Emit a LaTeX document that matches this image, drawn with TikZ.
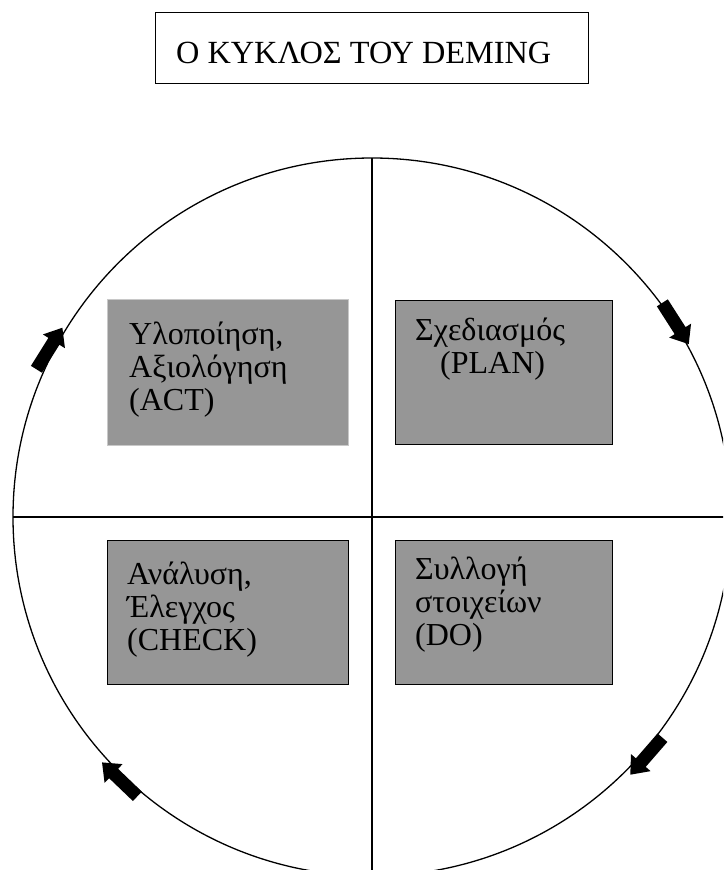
\documentclass[tikz,border=0pt]{standalone}
\usepackage{fontspec}
\usetikzlibrary{calc}
\setmainfont{Liberation Serif}
\definecolor{boxgray}{RGB}{150,150,150}
\definecolor{edgegray}{RGB}{200,200,200}
\tikzset{
  graybox/.style={fill=boxgray, draw=black, line width=1.2pt},
  graybox nb/.style={fill=boxgray, draw=edgegray, line width=1pt},
  boxtext/.style={anchor=base west, inner sep=0pt, align=left,
    font=\fontsize{32}{33}\selectfont},
  blockarrow/.pic={\fill[black] (-24,-6.5) -- (9,-6.5) -- (9,-13) -- (25,0) -- (9,13) -- (9,6.5) -- (-24,6.5) -- cycle;}
}
\begin{document}
\begin{tikzpicture}[x=1pt,y=1pt]
\useasboundingbox (0,0) rectangle (723,-870);
\clip (0,0) rectangle (723,-870);
% title
\node[draw=black, line width=1.2pt, minimum width=433pt, minimum height=71pt, anchor=north west, inner sep=0pt] (titlebox) at (155,-12) {};
\node[anchor=base west, inner sep=0pt, font=\fontsize{32.3}{36}\selectfont] (title) at (176,-63) {Ο ΚΥΚΛΟΣ ΤΟΥ DEMING};
% circle and axes
\coordinate (c) at (372,-517);
\draw[line width=1.3pt] (c) circle[radius=359];
\coordinate (vtop) at (372,-158);
\coordinate (vbot) at (372,-880);
\coordinate (hl) at (13,-517);
\coordinate (hr) at (730,-517);
\draw[line width=1.4pt] (vtop) -- (vbot);
\draw[line width=1.4pt] (hl) -- (hr);
% boxes
\node[graybox nb, anchor=north west, minimum width=241pt, minimum height=146pt, inner sep=0pt] (actbox) at (107,-299) {};
\node[graybox, anchor=north west, minimum width=217pt, minimum height=144pt, inner sep=0pt] (planbox) at (395,-300) {};
\node[graybox, anchor=north west, minimum width=241pt, minimum height=144pt, inner sep=0pt] (checkbox) at (107,-540) {};
\node[graybox, anchor=north west, minimum width=217pt, minimum height=144pt, inner sep=0pt] (dobox) at (395,-540) {};
% texts (base = baseline of last line)
\node[boxtext] (act) at (129,-410) {Υλοποίηση,\\Αξιολόγηση\\(ACT)};
\node[boxtext] (plan1) at (415,-340) {Σχεδιασμός};
\node[boxtext] (plan2) at (440,-373) {(PLAN)};
\node[boxtext] (check) at (127,-650) {Ανάλυση,\\Έλεγχος\\(CHECK)};
\node[boxtext] (do) at (415,-645) {Συλλογή\\στοιχείων\\(DO)};
% block arrows
\pic[rotate=-57.4] (arrtr) at ($(c)+(32.6:360)$) {blockarrow};
\pic[rotate=-131] (arrbr) at ($(c)+(-41:364)$) {blockarrow};
\pic[rotate=136.2] (arrbl) at ($(c)+(-133.8:364)$) {blockarrow};
\pic[rotate=58] (arrl) at ($(c)+(152.5:364)$) {blockarrow};
\end{tikzpicture}
\end{document}
